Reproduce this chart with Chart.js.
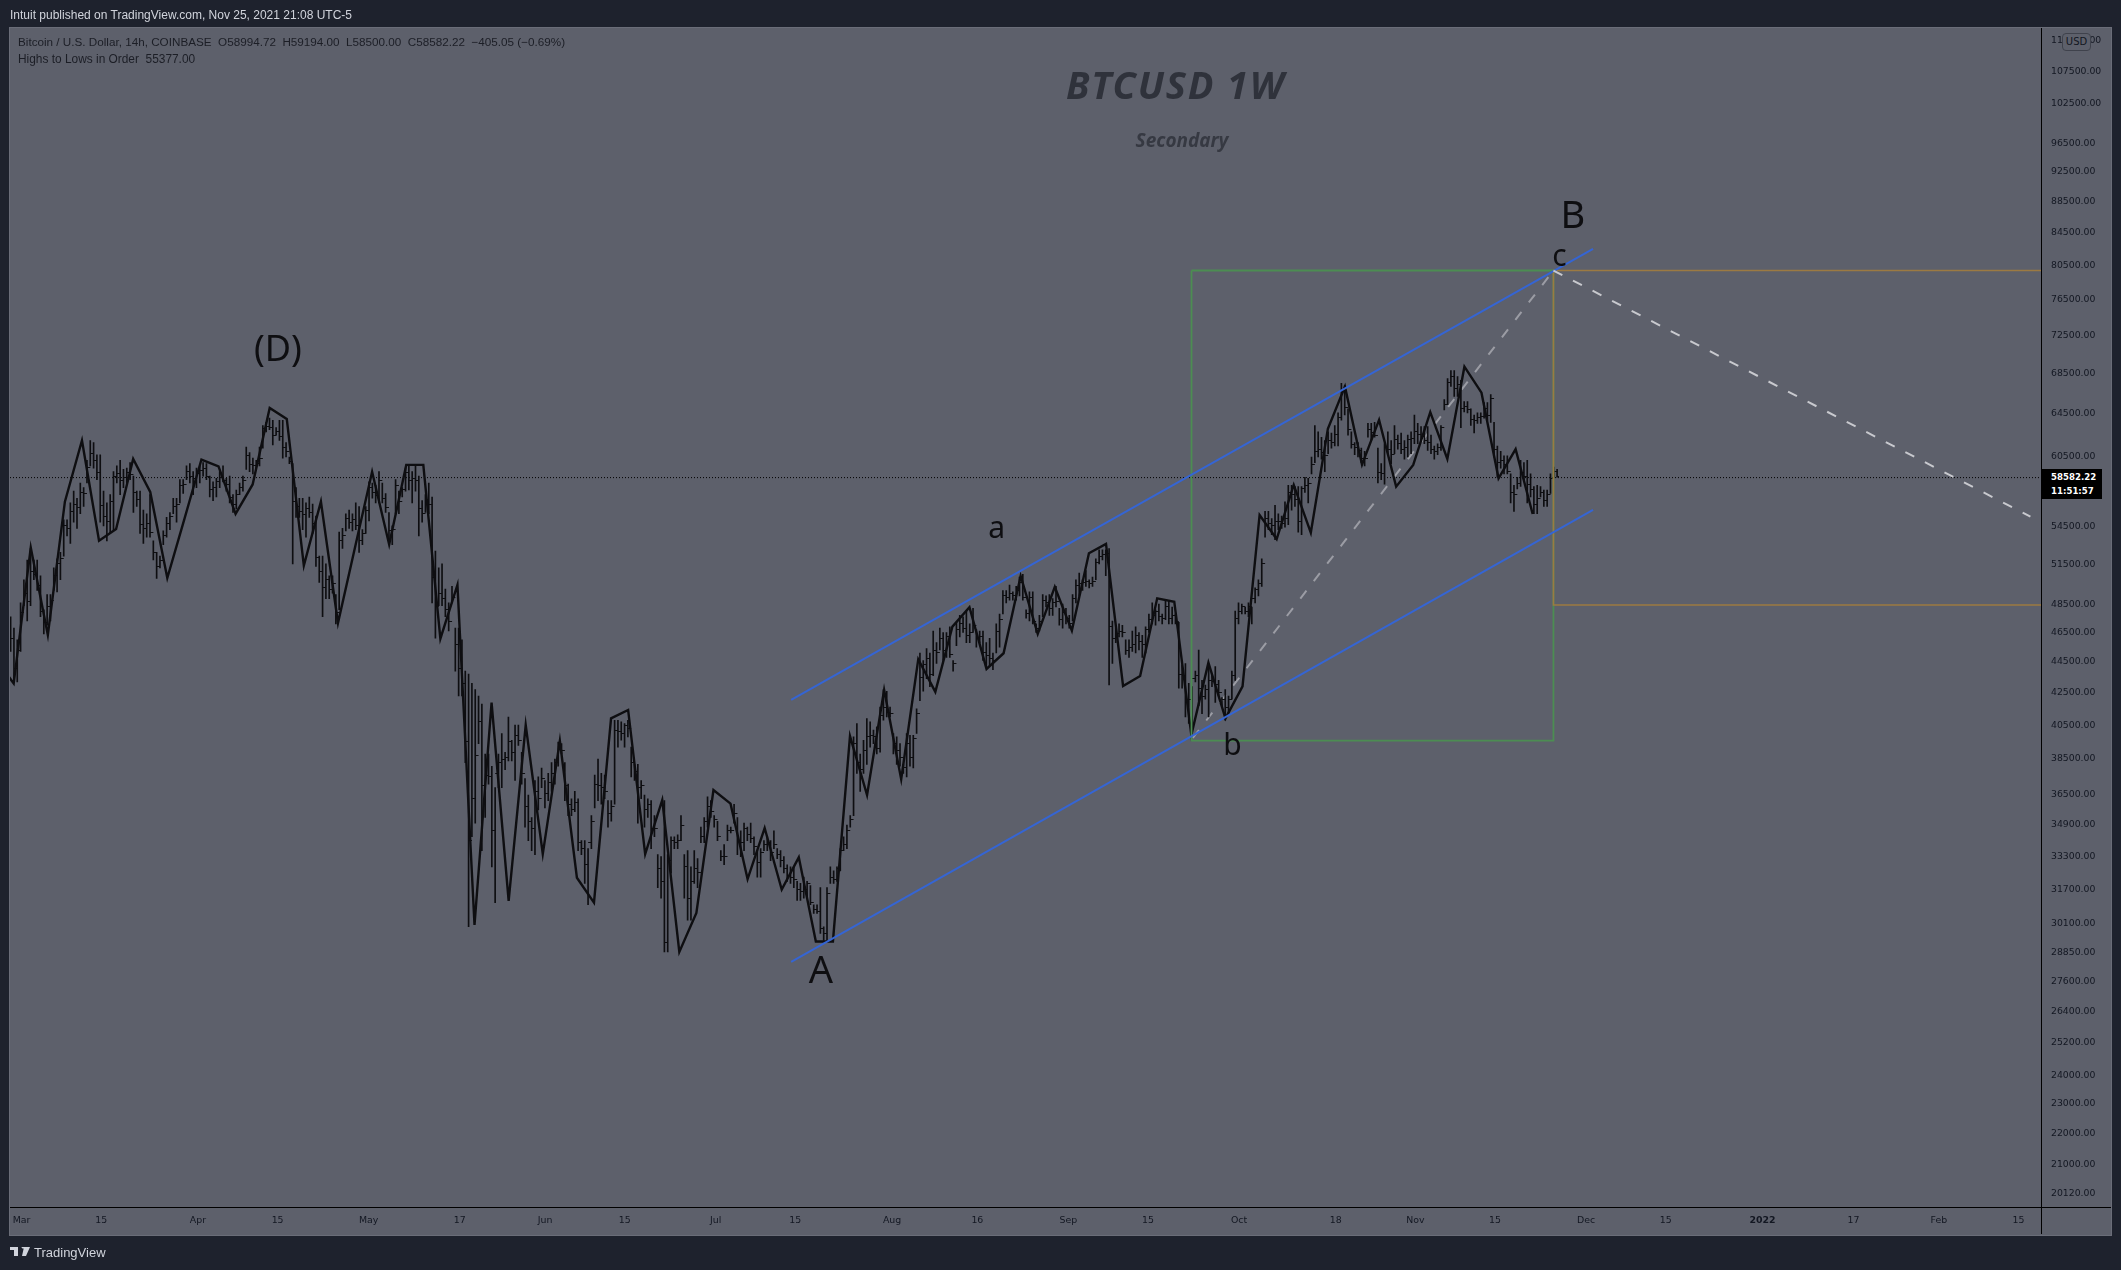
<!DOCTYPE html>
<html>
<head>
<meta charset="utf-8">
<title>BTCUSD 1W</title>
<script src="https://cdn.jsdelivr.net/npm/chart.js@4/dist/chart.umd.min.js"></script>
<style>
  html, body { margin: 0; padding: 0; background: #1e222d; overflow: hidden; }
  #wrap { position: relative; width: 2121px; height: 1270px; }
  #panel { position: absolute; left: 9px; top: 27px; width: 2101px; height: 1207px; background: #5d606b; border: 1px solid #6a6d78; }
  canvas { position: absolute; left: 0; top: 0; }
  .txt { position: absolute; white-space: pre; font-family: "Liberation Sans", sans-serif; line-height: 16px; }
  .line { position: absolute; background: #000; }
  #publish { left: 10px; top: 7px; font-size: 12px; color: #d1d4dc; }
  #legend1 { left: 18px; top: 34px; font-size: 11.7px; color: #1c1e26; }
  #legend2 { left: 18px; top: 51px; font-size: 11.9px; color: #1c1e26; }
  #title { left: 1066px; top: 59px; width: 219px; text-align: center; font: italic bold 38px "Noto Sans", sans-serif; line-height: 50px; color: #2f323b; letter-spacing: 1.8px; }
  #subtitle { left: 1082px; top: 128px; width: 200px; text-align: center; font: italic bold 19px "Noto Sans", sans-serif; line-height: 25px; color: #363942; }
  #usd { left: 2062px; top: 33px; width: 27px; height: 16px; text-align: center; font: 10px "DejaVu Sans", sans-serif; line-height: 16px; color: #131722; background: #5d606b; border: 1px solid #3f424c; border-radius: 4px; }
  #lastBox { position: absolute; left: 2041px; top: 469px; width: 61px; height: 30px; background: #000; }
  #lastPrice { left: 2051px; top: 470px; font: bold 8.6px "DejaVu Sans", sans-serif; line-height: 14px; color: #fff; }
  #lastTimer { left: 2051px; top: 484px; font: bold 8.6px "DejaVu Sans", sans-serif; line-height: 14px; color: #fff; }
  #brand { left: 34px; top: 1245px; font-size: 13px; color: #d1d4dc; }
  #logo { position: absolute; left: 10px; top: 1247px; }
</style>
</head>
<body>
<div id="wrap">
  <div id="panel"></div>
  <canvas id="chart" width="2121" height="1270"></canvas>
  <div class="line" style="left:10px;top:1207px;width:2101px;height:1px"></div>
  <div class="line" style="left:2041px;top:28px;width:1px;height:1206px"></div>
  <div class="txt" id="publish">Intuit published on TradingView.com, Nov 25, 2021 21:08 UTC-5</div>
  <div class="txt" id="legend1">Bitcoin / U.S. Dollar, 14h, COINBASE  O58994.72  H59194.00  L58500.00  C58582.22  −405.05 (−0.69%)</div>
  <div class="txt" id="legend2">Highs to Lows in Order  55377.00</div>
  <div class="txt" id="title">BTCUSD 1W</div>
  <div class="txt" id="subtitle">Secondary</div>
  <div class="txt" id="usd">USD</div>
  <div id="lastBox"></div>
  <div class="txt" id="lastPrice">58582.22</div>
  <div class="txt" id="lastTimer">11:51:57</div>
  <svg id="logo" width="20" height="10" viewBox="0 0 20 10"><path fill="#d1d4dc" d="M0 0h8v9H4V3H0zM9 0h2.500a1.500 1.500 0 1 1 0 .01zM14 0h6l-4 9h-4z"/></svg>
  <div class="txt" id="brand">TradingView</div>
</div>
<script>
// Price bars, thousands of USD, one bar every 14h
const barHighs = [
  47.5,46.7,45.9,48.5,50.2,51.7,52.6,51.7,51.7,50.5,
  48.0,49.1,49.1,51.1,51.8,52.3,54.9,54.9,56.3,57.3,
  56.7,58.0,57.6,60.0,61.8,61.6,60.5,60.5,57.3,56.3,
  57.0,59.0,59.5,60.0,59.2,59.3,59.8,58.6,57.3,57.3,
  55.7,55.4,57.0,53.2,52.3,52.0,54.0,55.1,55.5,56.7,
  56.7,58.3,58.3,59.5,59.7,59.0,59.3,59.5,59.8,59.7,
  58.6,58.1,58.4,59.0,59.5,58.4,58.6,57.0,57.4,58.0,
  58.6,61.2,60.7,60.2,60.0,61.2,63.2,63.5,63.9,63.7,
  63.0,63.7,63.7,61.6,60.3,59.7,57.6,56.7,56.7,56.3,
  56.8,56.2,55.2,52.0,52.0,51.4,50.5,50.5,49.1,53.9,
  54.2,55.4,55.7,55.4,56.3,56.0,54.1,56.0,58.1,58.0,
  57.8,59.0,58.0,57.1,55.5,54.4,58.3,57.3,57.6,59.3,
  59.5,59.0,59.5,58.6,56.5,57.0,58.0,56.8,52.4,51.1,
  51.4,49.5,48.5,49.7,46.7,46.7,45.9,43.8,
  43.6,43.0,42.6,42.2,41.7,38.7,38.7,38.0,36.8,38.7,
  39.9,38.8,40.9,39.5,40.4,40.4,38.8,37.3,36.4,35.2,
  37.2,37.4,37.9,37.2,37.6,38.2,38.4,39.4,39.3,38.2,
  37.0,36.2,36.6,36.2,34.0,34.0,33.6,35.3,37.5,38.4,
  37.6,37.5,36.1,36.1,40.7,40.7,40.6,40.5,40.7,39.1,
  38.1,38.1,37.2,36.4,36.2,36.1,35.3,33.3,33.2,36.1,
  33.3,34.2,34.2,34.3,35.3,33.3,33.5,32.7,33.5,33.1,
  34.7,35.2,36.3,36.1,35.3,35.0,33.5,33.8,34.8,34.7,
  35.9,35.2,34.5,34.9,34.7,34.9,34.2,33.5,33.6,34.0,
  34.2,34.0,34.5,33.6,33.5,33.2,32.8,32.7,32.7,32.0,
  31.9,32.2,32.0,31.8,30.9,30.9,31.7,29.9,31.7,32.7,
  32.5,32.7,33.6,34.2,34.8,35.3,39.7,40.5,38.7,39.5,
  40.8,40.6,40.1,40.3,41.5,42.6,42.5,41.5,39.9,39.7,
  39.3,38.1,39.9,39.8,39.8,41.4,45.0,44.5,45.3,45.0,
  46.5,45.7,
  46.7,46.4,46.4,46.8,44.5,47.1,47.6,47.5,47.9,47.0,
  48.1,46.6,46.5,46.5,45.7,46.0,45.0,47.0,47.7,49.4,
  49.4,49.8,49.3,49.7,50.4,50.6,48.0,49.3,49.3,47.0,
  47.6,49.1,49.0,49.1,48.8,49.7,48.1,48.4,48.1,47.6,
  49.1,50.2,50.7,50.2,50.9,50.2,50.4,51.8,52.5,52.5,
  52.5,52.6,47.2,46.7,47.0,46.9,45.9,45.9,46.5,46.8,
  46.4,46.2,46.8,47.7,48.5,48.0,48.4,47.7,48.6,48.6,
  48.2,47.7,47.1,44.2,44.3,43.0,42.8,43.8,45.2,43.2,
  42.9,44.2,43.6,44.1,43.2,42.1,42.6,42.2,43.8,47.9,
  48.5,48.4,48.2,48.5,48.2,49.6,50.2,51.8,
  55.6,55.6,55.0,56.1,55.4,55.2,56.4,57.8,57.8,57.7,
  57.7,57.7,58.5,58.4,60.3,63.2,62.6,62.1,61.8,62.6,
  62.5,63.2,64.4,67.3,67.1,64.8,62.6,61.6,61.6,61.1,
  60.8,63.4,63.4,63.5,61.1,59.7,61.5,62.6,61.8,63.2,
  62.3,62.5,61.8,62.3,62.6,64.2,63.4,63.1,63.1,63.1,
  62.3,61.3,61.5,63.2,65.7,67.8,68.6,68.6,68.0,67.6,
  65.5,65.5,64.8,64.2,64.4,64.4,65.4,65.4,66.2,63.5,
  61.3,60.8,60.4,60.4,58.8,57.8,58.5,60.0,59.8,60.0,
  58.8,57.7,57.8,57.7,57.4,57.4,58.8,59.4,59.194
];
const barLows = [
  45.1,43.1,43.1,45.1,48.3,47.2,48.3,50.2,49.4,47.5,
  46.3,46.9,47.2,49.4,49.3,50.2,52.0,53.6,53.0,54.7,
  54.2,55.4,56.0,58.0,59.5,59.3,58.3,54.7,54.4,53.2,
  53.8,54.1,58.0,57.0,57.6,58.0,58.3,55.5,56.0,53.8,
  53.0,53.5,53.5,51.7,50.3,51.1,52.9,53.5,54.1,55.4,
  54.7,56.3,57.1,58.3,58.0,57.0,57.6,58.0,58.6,58.3,
  56.8,56.5,56.8,57.6,58.1,57.3,56.3,55.5,55.8,57.0,
  57.3,59.2,59.0,58.8,59.3,59.5,61.1,62.6,62.8,61.4,
  62.3,61.8,60.2,60.3,59.7,51.4,55.1,55.1,54.1,53.5,
  55.1,53.8,51.2,50.0,47.5,48.8,48.8,49.2,47.0,48.0,
  52.6,54.0,54.2,54.0,54.1,52.3,52.9,53.8,54.8,56.7,
  56.3,56.3,56.3,55.5,53.0,52.9,55.4,55.4,56.8,57.3,
  57.4,56.3,57.3,53.6,54.7,55.5,55.4,48.5,46.0,48.3,
  48.3,47.5,46.5,48.5,43.8,42.2,42.2,38.2,
  29.9,34.2,34.9,39.3,33.5,35.2,37.0,32.7,31.0,36.8,
  36.8,37.8,38.3,38.3,37.2,39.2,37.0,34.7,34.0,33.5,
  33.3,35.6,36.8,35.7,36.1,36.6,37.0,38.0,38.7,36.1,
  35.3,35.3,35.5,33.5,33.3,31.9,30.9,33.6,35.7,36.1,
  35.9,36.2,34.7,35.0,35.9,39.1,39.5,39.1,39.7,37.4,
  37.2,34.9,36.2,34.7,35.2,33.6,34.2,31.7,31.2,28.8,
  28.8,32.4,33.6,33.6,34.0,31.2,30.2,30.2,31.9,31.7,
  33.9,33.9,34.7,35.2,34.7,34.0,33.0,32.8,34.0,34.4,
  34.9,33.3,33.2,33.5,34.0,33.9,33.3,32.2,32.2,33.5,
  33.5,33.0,33.6,33.1,32.7,32.4,32.0,31.9,31.7,31.1,
  31.1,31.2,31.2,30.9,30.5,30.5,29.6,29.3,29.3,31.9,
  31.9,32.0,32.5,33.5,33.6,34.7,35.3,37.6,36.6,37.6,
  38.1,39.1,39.3,38.7,38.8,40.7,40.9,40.9,38.7,38.1,
  38.0,37.6,37.4,38.0,37.9,39.9,41.9,42.5,43.3,42.8,
  43.5,44.3,
  45.2,44.5,44.7,44.7,43.8,45.5,46.1,46.4,45.7,45.7,
  46.4,45.4,45.7,44.5,44.0,44.2,43.9,45.0,45.4,47.7,
  48.5,48.7,48.7,48.7,49.0,48.7,47.4,47.2,47.0,46.4,
  46.5,47.5,48.2,47.6,47.6,48.2,46.9,46.7,47.0,46.7,
  47.2,48.5,49.0,49.4,49.7,49.6,49.7,50.2,51.4,51.7,
  50.5,42.9,44.3,45.7,46.1,46.1,44.9,44.7,45.1,45.0,
  45.2,44.7,45.0,46.4,47.0,46.9,47.2,47.0,47.3,47.0,
  47.0,47.0,42.7,42.7,40.9,40.5,39.9,43.1,41.6,41.1,
  42.0,40.9,42.8,41.8,42.2,41.6,40.7,41.1,42.0,43.2,
  47.0,47.7,47.7,47.5,47.0,48.5,49.0,49.7,
  53.5,54.1,53.7,53.3,54.1,54.2,54.3,54.5,55.7,56.0,
  53.9,53.7,57.2,56.3,58.8,59.8,60.3,60.1,59.0,60.6,
  61.1,61.3,61.3,63.7,64.2,62.3,61.1,60.5,60.3,59.8,
  59.5,62.1,61.8,62.1,58.0,58.3,57.9,60.6,59.7,60.6,
  61.0,60.6,60.1,60.3,60.6,61.5,61.5,61.8,61.5,60.9,
  60.6,60.1,60.5,60.9,64.7,65.2,67.0,66.0,66.0,63.0,
  64.5,64.4,63.2,62.5,63.4,63.4,63.9,63.7,63.5,60.3,
  58.5,59.3,58.8,58.8,56.3,55.6,57.5,57.7,58.2,56.3,
  56.8,55.4,55.4,56.8,56.0,56.0,57.1,58.5,58.5
];
const barCloses = [
  46.0,44.0,45.2,47.8,49.2,48.6,50.8,50.6,49.8,47.9,
  47.1,48.2,48.7,50.5,51.4,51.8,54.4,54.2,55.6,56.2,
  55.9,57.2,57.1,59.4,60.6,60.0,58.9,56.1,55.2,54.8,
  56.4,58.6,58.8,58.2,58.5,58.9,58.7,57.2,56.6,54.5,
  54.2,54.6,53.9,52.3,51.2,51.7,53.6,54.6,55.2,56.0,
  56.2,57.8,57.9,59.0,58.6,58.4,58.8,59.1,59.3,58.6,
  57.4,57.6,58.1,58.5,58.2,57.9,56.8,56.2,57.0,57.6,
  58.2,60.4,59.6,59.5,59.7,60.2,62.9,63.1,63.0,62.3,
  62.6,62.2,61.2,60.8,59.9,56.4,56.0,55.6,55.3,55.8,
  55.5,54.6,51.9,50.8,49.6,50.2,49.5,49.9,47.8,53.2,
  53.6,55.0,54.7,54.9,54.4,53.2,53.8,55.7,57.6,57.2,
  56.9,58.2,56.7,55.9,54.0,54.1,57.8,56.4,57.4,58.9,
  58.2,58.4,58.2,55.8,55.4,56.6,56.2,50.4,48.2,49.2,
  48.8,48.0,47.2,48.9,45.6,44.0,43.0,39.4,
  34.0,36.2,38.6,40.6,36.9,37.5,37.4,34.5,37.6,38.2,
  38.4,38.5,39.4,38.8,39.8,39.5,37.6,35.8,35.0,34.6,
  36.6,36.2,37.3,36.5,37.1,37.6,38.2,39.0,38.9,36.9,
  35.9,35.6,36.0,33.9,33.6,32.8,33.9,35.0,37.0,36.9,
  36.8,36.6,35.4,35.8,40.1,40.0,39.9,40.4,40.2,38.2,
  37.7,36.8,36.9,35.6,35.9,34.6,34.6,32.6,32.0,29.2,
  33.0,34.0,33.9,34.0,34.8,32.7,31.2,32.0,32.6,32.4,
  34.2,35.0,35.8,35.5,35.1,34.2,33.2,33.2,34.5,34.5,
  35.4,34.0,33.9,34.6,34.3,34.1,33.7,32.9,33.4,33.8,
  33.9,33.4,33.8,33.3,33.0,32.6,32.3,32.2,32.1,31.6,
  31.5,31.6,31.9,31.0,30.7,30.6,29.8,29.6,31.4,32.2,
  32.1,32.6,33.5,33.8,34.5,35.1,39.3,38.2,37.8,38.9,
  39.7,39.8,39.7,39.0,41.0,41.5,41.2,41.1,39.3,38.9,
  38.5,37.9,39.3,38.5,39.6,41.1,43.4,44.2,44.6,43.6,
  45.2,45.0,
  46.0,45.2,46.1,44.9,44.3,46.6,47.0,46.7,46.2,46.4,
  46.9,46.0,46.1,45.0,44.8,44.6,44.5,46.5,47.3,49.0,
  48.9,49.2,49.0,49.4,50.0,48.9,47.7,48.9,47.2,46.7,
  47.2,48.7,48.5,48.1,48.5,48.6,47.3,47.8,47.4,47.0,
  48.8,49.8,49.9,50.0,50.1,49.9,50.1,51.5,52.0,52.1,
  52.2,46.8,46.0,46.3,46.5,46.4,45.2,45.4,45.6,46.2,
  45.8,45.6,46.6,47.3,47.6,47.9,47.5,47.4,48.2,47.4,
  47.6,47.2,43.6,43.5,41.8,42.0,43.3,43.5,42.7,42.2,
  42.6,43.2,43.1,42.9,42.4,42.0,41.5,42.0,43.5,47.4,
  47.9,48.2,47.9,48.2,48.8,49.5,49.9,51.4,
  55.0,54.6,54.4,54.8,54.8,54.6,55.0,57.2,57.0,56.6,
  54.8,57.5,57.8,58.0,59.6,60.8,61.0,60.7,60.4,61.8,
  61.6,62.4,64.0,66.6,64.9,62.8,61.4,61.2,60.9,60.2,
  60.2,62.8,62.5,62.3,58.9,58.8,61.2,61.0,60.5,61.9,
  61.5,61.0,61.2,61.9,62.0,62.6,62.4,62.2,61.8,61.6,
  61.0,60.8,61.2,63.0,65.2,67.4,68.0,66.8,67.2,64.8,
  65.0,64.7,63.8,63.7,64.0,64.1,64.8,64.2,65.8,61.0,
  59.8,60.0,59.6,59.0,57.2,57.0,58.0,58.9,58.6,57.9,
  57.4,56.2,56.7,57.2,56.5,57.0,58.4,58.995,58.582
];

// "Highs to Lows in Order" line, USD, one point every 3 days
const swingValues = [
  44530,43000,52670,46230,56410,61800,53215,54155,60120,57234,
  50332,54960,60070,59455,55381,57875,64880,63826,51274,56410,
  47060,52690,58986,52910,59590,59590,45970,49810,29978,41783,
  31074,40410,33330,39470,32172,30996,40815,41330,33330,36130,
  28794,30522,36675,35932,32109,34648,31604,33165,29250,29250,
  39750,36402,42585,37275,44580,42458,46804,48178,43940,44982,
  50484,46297,49662,46527,52226,52956,42839,43482,48829,48580,
  39810,44353,40815,42808,55298,53350,57832,53858,62884,66980,
  59614,63730,57687,59590,64469,60120,69007,66380,58410,61004,
  55377
];

// Time axis: days since 1 Mar 2021
const tickDays = [0,14,31,45,61,77,92,106,122,136,153,168,184,198,214,231,245,259,275,289,306,322,337,351];
const tickLabels = ['Mar','15','Apr','15','May','17','Jun','15','Jul','15','Aug','16','Sep','15','Oct','18','Nov','15','Dec','15','2022','17','Feb','15'];

const priceTicks = [
  112500,107500,102500,96500,92500,88500,84500,80500,76500,72500,68500,64500,60500,
  54500,51500,48500,46500,44500,42500,40500,38500,36500,34900,33300,31700,30100,
  28850,27600,26400,25200,24000,23000,22000,21000,20120
];

// dotted last price line
const priceLine = 58470;

// Hand drawn objects
const channelUpper = [{x:135.27,y:41950},{x:276.22,y:82280}];
const channelLower = [{x:135.27,y:28370},{x:276.22,y:55720}];
const greenBox = [{x:205.64,y:79660},{x:269.26,y:79660},{x:269.26,y:39476},{x:205.64,y:39476},{x:205.64,y:79660}];
const orangeBox = [{x:354.96,y:79660},{x:269.26,y:79660},{x:269.26,y:48343},{x:354.96,y:48343}];
const riseDash = [{x:205.87,y:39640},{x:269.26,y:79660}];
const fallDash = [{x:269.26,y:79660},{x:353.1,y:55160}];

const waveLabels = ['(D)','A','B','a','b','c'];
const waveDays = [45.06,140.5,272.65,171.37,212.85,270.3];
const wavePrices = [70640,27950,86290,54080,39110,81210];
const waveSizes = [36,38,38,30,30,30];

const barStartDay = -1.93;
const barStepDays = 14 / 24;
const swingStartDay = -4.39;
const tickLabelNudge = 1.0024; // price labels sit a little under their level
const INK = '#0e0e11';

const barDay = i => barStartDay + i * barStepDays;

const bars = barHighs.map((h, i) => ({ x: barDay(i), y: [barLows[i] * 1000, h * 1000] }));
const closePoints = barCloses.map((c, i) => ({ x: barDay(i), y: c * 1000 }));
const openPoints = barCloses.slice(0, -1).map((c, i) => ({ x: barDay(i + 1), y: c * 1000 }));
const swingPoints = swingValues.map((v, i) => ({ x: swingStartDay + i * 3, y: v }));

// little open / close ticks on the bars
function tickImage(side) {
  const c = document.createElement('canvas');
  c.width = 4;
  c.height = 1;
  const g = c.getContext('2d');
  g.fillStyle = INK;
  g.fillRect(side === 'left' ? 0 : 2, 0, 2, 1);
  return c;
}

const waveLabelPlugin = {
  id: 'waveLabels',
  afterDatasetsDraw(chart) {
    const { ctx, scales } = chart;
    ctx.save();
    ctx.fillStyle = INK;
    ctx.textAlign = 'center';
    ctx.textBaseline = 'middle';
    waveLabels.forEach((t, i) => {
      ctx.font = waveSizes[i] + 'px "Noto Sans", sans-serif';
      ctx.fillText(t, scales.x.getPixelForValue(waveDays[i]), scales.y.getPixelForValue(wavePrices[i]));
    });
    ctx.restore();
  }
};

function drawing(data, color, width, dash, order) {
  return {
    type: 'line', data, borderColor: color, borderWidth: width,
    borderDash: dash, pointRadius: 0, tension: 0, order, fill: false
  };
}

new Chart(document.getElementById('chart'), {
  type: 'bar',
  data: {
    datasets: [
      { type: 'bar', data: bars, backgroundColor: INK, barThickness: 1, order: 5 },
      { type: 'line', data: openPoints, showLine: false, pointStyle: tickImage('left'), pointRadius: 2, order: 4 },
      { type: 'line', data: closePoints, showLine: false, pointStyle: tickImage('right'), pointRadius: 2, order: 4 },
      drawing(swingPoints, INK, 2.4, [], 3),
      drawing(channelUpper, '#3565d4', 2, [], 2),
      drawing(channelLower, '#3565d4', 2, [], 2),
      drawing(greenBox, '#4c8d52', 1.8, [], 2.5),
      drawing(orangeBox, '#9c7a42', 1.6, [], 2),
      drawing(riseDash, 'rgba(205,206,212,0.55)', 2, [10, 12], 6),
      drawing(fallDash, '#c8c9ce', 2, [10, 12], 1),
      drawing([{x:-2.04,y:priceLine},{x:354.96,y:priceLine}], '#000000', 1, [1, 2], 7)
    ]
  },
  plugins: [waveLabelPlugin],
  options: {
    responsive: false,
    animation: false,
    devicePixelRatio: 1,
    events: [],
    layout: { padding: { left: 10, top: 27, right: 10, bottom: 35 } },
    plugins: { legend: { display: false }, tooltip: { enabled: false } },
    scales: {
      x: {
        type: 'linear',
        offset: false,
        min: -2.04,
        max: 354.96,
        grid: { display: false, drawTicks: false },
        border: { display: false },
        afterFit(scale) { scale.height = 27.5; },
        afterBuildTicks(scale) { scale.ticks = tickDays.map(v => ({ value: v })); },
        ticks: {
          autoSkip: false,
          maxRotation: 0,
          padding: 7,
          color: '#131722',
          font: ctx => ({ family: '"DejaVu Sans", sans-serif', size: 9.4, weight: ctx.tick && ctx.tick.value === 306 ? 'bold' : 'normal' }),
          callback: v => tickLabels[tickDays.indexOf(v)]
        }
      },
      y: {
        type: 'logarithmic',
        position: 'right',
        min: 19661,
        max: 114594,
        grid: { display: false, drawTicks: false },
        border: { display: false },
        afterFit(scale) { scale.width = 70; },
        afterBuildTicks(scale) { scale.ticks = priceTicks.map(v => ({ value: v / tickLabelNudge })); },
        ticks: {
          autoSkip: false,
          padding: 10,
          color: '#131722',
          font: { family: '"DejaVu Sans", sans-serif', size: 9.3 },
          callback: (v, i) => priceTicks[i].toFixed(2)
        }
      }
    }
  }
});
</script>
</body>
</html>
